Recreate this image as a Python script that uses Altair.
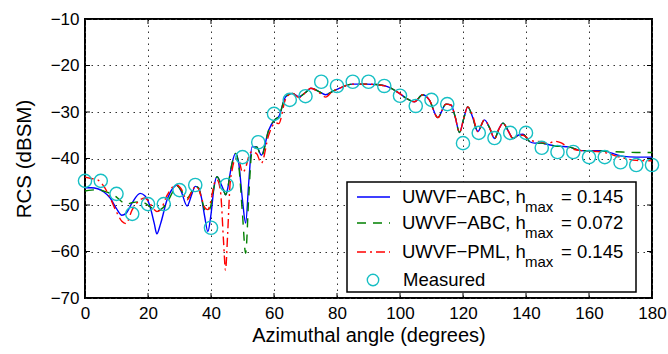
import altair as alt
import pandas as pd

# ---------------- data ----------------
X = [0, 2, 4, 6, 8, 10, 11.7, 13, 15, 17.5, 19, 20.5, 22, 22.8, 24, 26, 28, 29.2,
     30.5, 32.4, 34, 35, 36, 37, 38, 39, 40, 41, 41.9, 43, 44, 44.6, 45.3, 46, 46.7,
     47.8, 48.8, 50, 51, 52, 53, 54.5, 56, 58.3, 60.5, 61.5, 63.7, 65.8, 68, 70, 71.7,
     74.3, 76.4, 78.5, 80.7, 84.9, 89.2, 92.4, 96.6, 99.8, 101.9, 104.6, 107.2, 109.3,
     112, 114.6, 116.2, 117.5, 118.9, 120.2, 121.5, 123, 124.7, 126.8, 128.5, 130,
     131.5, 132.7, 134.3, 135.9, 137.5, 139, 141.2, 142.7, 144.9, 147, 149.1, 151,
     153.4, 157.6, 164, 170.4, 175, 180]

ABC_145 = [-46.3, -46.3, -46.5, -47.2, -48.5, -50.8, -52.2, -51.8, -49.5, -47.5, -48.0,
           -50.0, -54.0, -56.2, -54.0, -49.0, -46.3, -45.7, -47.0, -50.2, -47.5, -46.0,
           -46.3, -48.5, -52.5, -55.7, -52.0, -46.0, -43.9, -45.2, -46.8, -47.8, -46.5,
           -43.5, -41.0, -38.9, -41.0, -49.0, -53.9, -45.0, -37.5, -37.5, -39.3, -33.9,
           -31.5, -31.0, -26.7, -26.0, -26.7, -25.8, -24.9, -25.6, -26.3, -25.6, -24.9,
           -24.0, -24.0, -24.1, -24.7, -26.0, -27.0, -27.8, -26.3, -27.4, -31.2, -28.3,
           -28.5, -31.0, -34.4, -31.5, -28.9, -31.0, -34.2, -31.7, -33.5, -35.7, -33.5,
           -32.4, -34.0, -35.7, -35.0, -34.8, -36.4, -36.7, -36.7, -37.0, -37.3, -37.4,
           -37.5, -38.3, -38.3, -39.5, -39.7, -39.7]

ABC_072 = [-47.0, -46.8, -46.7, -47.0, -47.5, -48.3, -49.3, -49.8, -49.5, -49.3, -49.6,
           -50.3, -51.0, -51.3, -51.0, -49.6, -47.0, -45.9, -46.8, -48.5, -47.0, -46.0,
           -46.3, -48.5, -51.0, -51.5, -50.0, -46.0, -43.9, -45.2, -46.8, -47.8, -46.5,
           -43.5, -41.0, -38.9, -41.5, -52.0, -60.4, -48.0, -38.5, -37.5, -39.5, -33.9,
           -31.5, -31.0, -26.7, -26.0, -26.7, -25.8, -24.9, -25.6, -26.3, -25.6, -24.9,
           -24.0, -24.0, -24.1, -24.7, -26.0, -27.0, -27.8, -26.3, -27.4, -31.2, -28.3,
           -28.5, -31.0, -34.4, -31.5, -28.9, -31.0, -34.2, -31.7, -33.5, -35.7, -33.5,
           -32.4, -34.0, -35.7, -35.0, -34.8, -36.4, -36.7, -36.7, -37.0, -37.3, -37.4,
           -37.5, -38.3, -38.4, -38.6, -38.7, -38.7]

PML_145 = [-44.0, -44.3, -44.6, -46.0, -48.5, -51.5, -53.5, -54.0, -51.0, -48.9, -48.5,
           -49.5, -51.0, -51.4, -51.0, -48.0, -46.0, -45.7, -46.5, -48.9, -47.0, -46.0,
           -46.5, -48.5, -50.5, -51.0, -49.0, -45.5, -44.6, -47.0, -58.0, -64.0, -56.0,
           -46.0, -42.5, -40.0, -40.3, -43.0, -42.0, -39.5, -38.5, -39.0, -41.0, -35.0,
           -32.3, -32.5, -27.2, -26.0, -26.9, -25.8, -24.9, -25.8, -26.8, -25.6, -24.9,
           -24.0, -24.0, -24.1, -24.7, -26.0, -27.0, -27.8, -26.3, -27.4, -31.2, -28.3,
           -28.5, -31.0, -34.4, -31.5, -28.9, -30.6, -34.2, -31.7, -33.5, -35.7, -33.5,
           -32.4, -34.0, -35.7, -35.0, -35.0, -36.0, -36.3, -36.4, -36.8, -36.3, -36.6,
           -37.6, -38.3, -38.6, -39.8, -40.4, -40.5]

MEAS_X = list(range(0, 181, 5))
MEAS_Y = [-44.8, -44.8, -47.6, -51.9, -49.8, -49.8, -46.8, -45.7, -54.9, -45.7, -39.7,
          -36.5, -30.4, -27.4, -26.6, -23.5, -24.4, -23.5, -23.5, -24.4, -26.5, -28.7,
          -27.4, -28.3, -36.7, -34.5, -35.6, -34.5, -34.5, -37.7, -38.6, -38.6, -39.7,
          -39.7, -40.8, -41.4, -41.4]

X_TICKS = [0, 20, 40, 60, 80, 100, 120, 140, 160, 180]
Y_TICKS = [-70, -60, -50, -40, -30, -20, -10]

# ---------------- layout ----------------
W, H = 567, 279
FONT = "Liberation Sans"
XMIN, XMAX, YMIN, YMAX = 0, 180, -70, -10

xs = alt.Scale(domain=[XMIN, XMAX], nice=False, zero=False)
ys = alt.Scale(domain=[YMIN, YMAX], nice=False, zero=False)

xaxis = alt.Axis(values=X_TICKS, title="Azimuthal angle (degrees)", grid=True,
                 gridDash=[1.5, 4.5], gridColor="#333333", gridWidth=1,
                 ticks=False, domain=False, labelFontSize=17, labelPadding=7,
                 labelFont=FONT, labelColor="black", titleFont=FONT,
                 titleFontSize=20, titleFontWeight="normal", titleColor="black",
                 titlePadding=4, labelFlush=False)
yaxis = alt.Axis(values=Y_TICKS, title="RCS (dBSM)", grid=True,
                 gridDash=[1.5, 4.5], gridColor="#333333", gridWidth=1,
                 ticks=False, domain=False, labelFontSize=17, labelPadding=6,
                 labelFont=FONT, labelColor="black", titleFont=FONT,
                 titleFontSize=20.5, titleFontWeight="normal", titleColor="black",
                 titlePadding=16, labelFlush=False)

lines_df = pd.DataFrame({"x": X, "abc145": ABC_145, "abc072": ABC_072, "pml145": PML_145})
meas_df = pd.DataFrame({"x": MEAS_X, "y": MEAS_Y})

base = alt.Chart(lines_df)

grid_layer = base.mark_point(opacity=0).encode(
    x=alt.X("x:Q", scale=xs, axis=xaxis),
    y=alt.Y("abc145:Q", scale=ys, axis=yaxis),
)

blue = base.mark_line(color="#0000ff", strokeWidth=1.4, interpolate="monotone").encode(
    x=alt.X("x:Q", scale=xs), y=alt.Y("abc145:Q", scale=ys))
green = base.mark_line(color="#008000", strokeWidth=1.4, strokeDash=[9, 7],
                       interpolate="monotone").encode(
    x=alt.X("x:Q", scale=xs), y=alt.Y("abc072:Q", scale=ys))
red = base.mark_line(color="#ff0000", strokeWidth=1.4, strokeDash=[9, 4, 2, 4],
                     interpolate="monotone").encode(
    x=alt.X("x:Q", scale=xs), y=alt.Y("pml145:Q", scale=ys))

circles = alt.Chart(meas_df).mark_point(shape="circle", filled=False, color="#17bfc4",
                                         size=175, strokeWidth=1.4, opacity=1).encode(
    x=alt.X("x:Q", scale=xs), y=alt.Y("y:Q", scale=ys))

# inward tick marks on all four sides
tx = pd.DataFrame({"v": X_TICKS})
ty = pd.DataFrame({"v": Y_TICKS})
tk = dict(color="black", strokeWidth=1)
tick_b = alt.Chart(tx).mark_rule(**tk).encode(
    x=alt.X("v:Q", scale=xs), y=alt.value(H), y2=alt.value(H - 5))
tick_t = alt.Chart(tx).mark_rule(**tk).encode(
    x=alt.X("v:Q", scale=xs), y=alt.value(0), y2=alt.value(5))
tick_l = alt.Chart(ty).mark_rule(**tk).encode(
    y=alt.Y("v:Q", scale=ys), x=alt.value(0), x2=alt.value(5))
tick_r = alt.Chart(ty).mark_rule(**tk).encode(
    y=alt.Y("v:Q", scale=ys), x=alt.value(W), x2=alt.value(W - 5))

# ---------------- manual legend ----------------
one = alt.Data(values=[{"a": 1}])
LX0, LX1, LY0, LY1 = 262, 551, 163, 273
box = alt.Chart(one).mark_rect(fill="white", stroke="black", strokeWidth=1.5).encode(
    x=alt.value(LX0), x2=alt.value(LX1), y=alt.value(LY0), y2=alt.value(LY1))

rows_y = [178, 204, 233]
names = ["UWVF\u2212ABC, h", "UWVF\u2212ABC, h", "UWVF\u2212PML, h"]
vals = ["= 0.145", "= 0.072", "= 0.145"]
colors = ["#0000ff", "#008000", "#ff0000"]
dashes = [[1, 0], [9, 7], [9, 4, 2, 4]]

legend_layers = [box]
for ry, nm, vl, c, d in zip(rows_y, names, vals, colors, dashes):
    legend_layers.append(alt.Chart(one).mark_rule(color=c, strokeWidth=1.4, strokeDash=d).encode(
        x=alt.value(272), x2=alt.value(305), y=alt.value(ry)))
    legend_layers.append(alt.Chart(one).mark_text(text=nm, font=FONT, fontSize=18.5, align="left",
                                                  baseline="middle", color="black").encode(
        x=alt.value(317), y=alt.value(ry)))
    legend_layers.append(alt.Chart(one).mark_text(text="max", font=FONT, fontSize=15, align="left",
                                                  baseline="middle", color="black").encode(
        x=alt.value(440), y=alt.value(ry + 10)))
    legend_layers.append(alt.Chart(one).mark_text(text=vl, font=FONT, fontSize=18.5, align="left",
                                                  baseline="middle", color="black").encode(
        x=alt.value(476), y=alt.value(ry)))

legend_layers.append(alt.Chart(one).mark_point(shape="circle", filled=False, color="#17bfc4",
                                               size=130, strokeWidth=1.4, opacity=1).encode(
    x=alt.value(288), y=alt.value(261)))
legend_layers.append(alt.Chart(one).mark_text(text="Measured", font=FONT, fontSize=18.5, align="left",
                                              baseline="middle", color="black").encode(
    x=alt.value(318), y=alt.value(261)))

chart = alt.layer(
    grid_layer, blue, green, red, circles, tick_b, tick_t, tick_l, tick_r, *legend_layers
).properties(
    width=W, height=H,
    autosize=alt.AutoSizeParams(type="none"),
    padding={"left": 85, "top": 19, "right": 16, "bottom": 56},
    background="white",
).configure_view(stroke="black", strokeWidth=2)

chart.save("out.html", embed_options={"renderer": "svg", "actions": False})
